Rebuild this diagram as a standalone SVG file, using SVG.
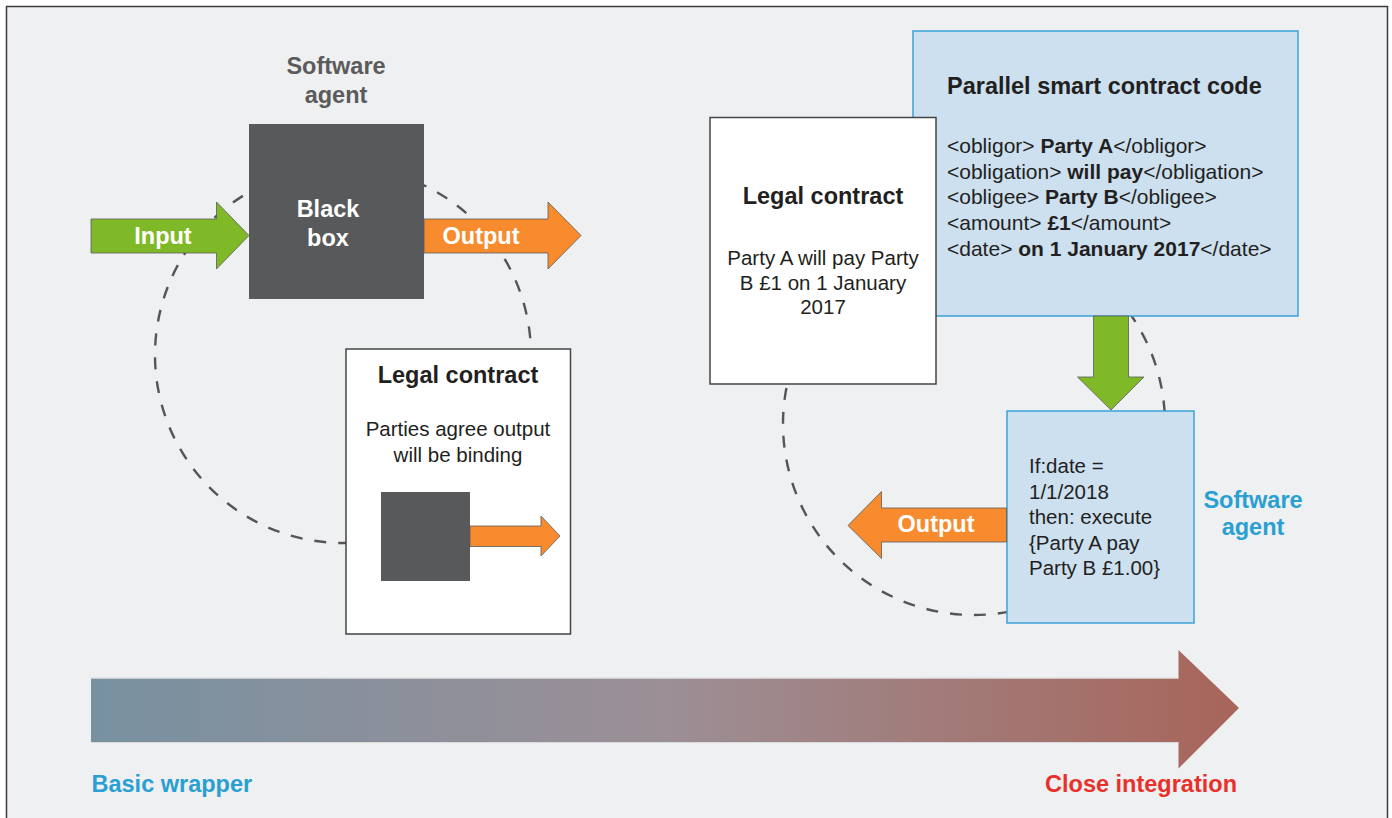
<svg xmlns="http://www.w3.org/2000/svg" width="1392" height="818" viewBox="0 0 1392 818">
<defs>
<style>
text{font-family:"Liberation Sans",Arial,sans-serif}
.t{font-size:23.5px;font-weight:bold;fill:#231f20}
.w{font-size:23.5px;font-weight:bold;fill:#ffffff}
.r{font-size:20.5px;fill:#231f20}
.c{font-size:21px;fill:#231f20}
.b{font-weight:bold}
.dash{fill:none;stroke:#555;stroke-width:2.4;stroke-dasharray:12 12}
.green{fill:#80b927;stroke:#5a5a5a;stroke-width:0.8}
.orange{fill:#f78b2d;stroke:#5a5a5a;stroke-width:0.8}
.dark{fill:#58595b}
.white{fill:#fff;stroke:#444;stroke-width:1.5}
.blue{fill:#cde0f0;stroke:#3aa2d8;stroke-width:1.5}
</style>
<linearGradient id="grad" x1="91" y1="0" x2="1239" y2="0" gradientUnits="userSpaceOnUse">
<stop offset="0" stop-color="#7891a1"/>
<stop offset="0.5" stop-color="#9c8f96"/>
<stop offset="1" stop-color="#a8655a"/>
</linearGradient>
</defs>
<rect x="0" y="0" width="1392" height="818" fill="#fff"/>
<rect id="frame" x="6.5" y="6.5" width="1381" height="830" fill="#eff0f2" stroke="#3c3c3c" stroke-width="1.5"/>

<g id="connectors">
<circle class="dash" cx="343" cy="355" r="188"/>
<circle class="dash" cx="974" cy="424" r="191"/>
</g>

<g id="software-agent-label-left">
<text class="t" x="336" y="74" text-anchor="middle" style="fill:#5b5b5b">Software</text>
<text class="t" x="336" y="103" text-anchor="middle" style="fill:#5b5b5b">agent</text>
</g>

<g id="black-box">
<rect class="dark" x="249" y="124" width="175" height="175"/>
<text class="w" x="328" y="217" text-anchor="middle">Black</text>
<text class="w" x="328" y="246" text-anchor="middle">box</text>
</g>

<g id="input-arrow">
<polygon class="green" points="91,219 216.5,219 216.5,202 249,235.5 216.5,269 216.5,253 91,253"/>
<text class="w" x="163" y="244" text-anchor="middle">Input</text>
</g>

<g id="output-arrow-left">
<polygon class="orange" points="424,219 548,219 548,202 581,235.5 548,269 548,253 424,253"/>
<text class="w" x="481" y="244" text-anchor="middle">Output</text>
</g>

<g id="legal-contract-left">
<rect class="white" x="346" y="349" width="224.5" height="285"/>
<text class="t" x="458" y="383" text-anchor="middle">Legal contract</text>
<text class="r" x="458" y="436" text-anchor="middle">Parties agree output</text>
<text class="r" x="458" y="462" text-anchor="middle">will be binding</text>
<rect class="dark" x="381" y="492" width="89" height="89"/>
<polygon class="orange" points="470,526 541,526 541,516 560,536 541,556 541,546.5 470,546.5"/>
</g>

<g id="parallel-code">
<rect class="blue" x="913" y="31" width="385" height="285"/>
<text class="t" x="947" y="94">Parallel smart contract code</text>
<text class="c" x="947" y="153">&lt;obligor&gt; <tspan class="b">Party A</tspan>&lt;/obligor&gt;</text>
<text class="c" x="947" y="179">&lt;obligation&gt; <tspan class="b">will pay</tspan>&lt;/obligation&gt;</text>
<text class="c" x="947" y="204">&lt;obligee&gt; <tspan class="b">Party B</tspan>&lt;/obligee&gt;</text>
<text class="c" x="947" y="230">&lt;amount&gt; <tspan class="b">£1</tspan>&lt;/amount&gt;</text>
<text class="c" x="947" y="256">&lt;date&gt; <tspan class="b">on 1 January 2017</tspan>&lt;/date&gt;</text>
</g>

<g id="legal-contract-right">
<rect class="white" x="710" y="117.5" width="226" height="266.5"/>
<text class="t" x="823" y="204" text-anchor="middle">Legal contract</text>
<text class="r" x="823" y="265" text-anchor="middle">Party A will pay Party</text>
<text class="r" x="823" y="290" text-anchor="middle">B £1 on 1 January</text>
<text class="r" x="823" y="314" text-anchor="middle">2017</text>
</g>

<g id="down-arrow">
<polygon class="green" points="1093.5,316 1128.5,316 1128.5,377 1144,377 1111,410 1077.5,377 1093.5,377"/>
</g>

<g id="software-agent-box">
<rect class="blue" x="1007" y="411" width="187" height="212"/>
<text class="r" x="1029" y="473">If:date =</text>
<text class="r" x="1029" y="499">1/1/2018</text>
<text class="r" x="1029" y="524">then: execute</text>
<text class="r" x="1029" y="550">{Party A pay</text>
<text class="r" x="1029" y="575">Party B £1.00}</text>
</g>

<g id="software-agent-label-right">
<text class="t" x="1253" y="508" text-anchor="middle" style="fill:#2a9fd1">Software</text>
<text class="t" x="1253" y="535" text-anchor="middle" style="fill:#2a9fd1">agent</text>
</g>

<g id="output-arrow-right">
<polygon class="orange" points="1006.5,508 881.5,508 881.5,491.5 848,525.5 881.5,558.5 881.5,542 1006.5,542"/>
<text class="w" x="936" y="532" text-anchor="middle">Output</text>
</g>

<g id="scale-arrow">
<polygon points="91,678.5 1178.5,678.5 1178.5,650 1239,708 1178.5,768.5 1178.5,742 91,742" fill="url(#grad)"/>
<line x1="91" y1="678" x2="1178.5" y2="678" stroke="#d9d9dc" stroke-width="1"/>
<line x1="91" y1="742.5" x2="1178.5" y2="742.5" stroke="#d9d9dc" stroke-width="1"/>
</g>

<g id="basic-wrapper">
<text class="t" x="91.5" y="792" style="fill:#2a9fd1">Basic wrapper</text>
</g>
<g id="close-integration">
<text class="t" x="1237" y="792" text-anchor="end" style="fill:#e8312a">Close integration</text>
</g>
</svg>
